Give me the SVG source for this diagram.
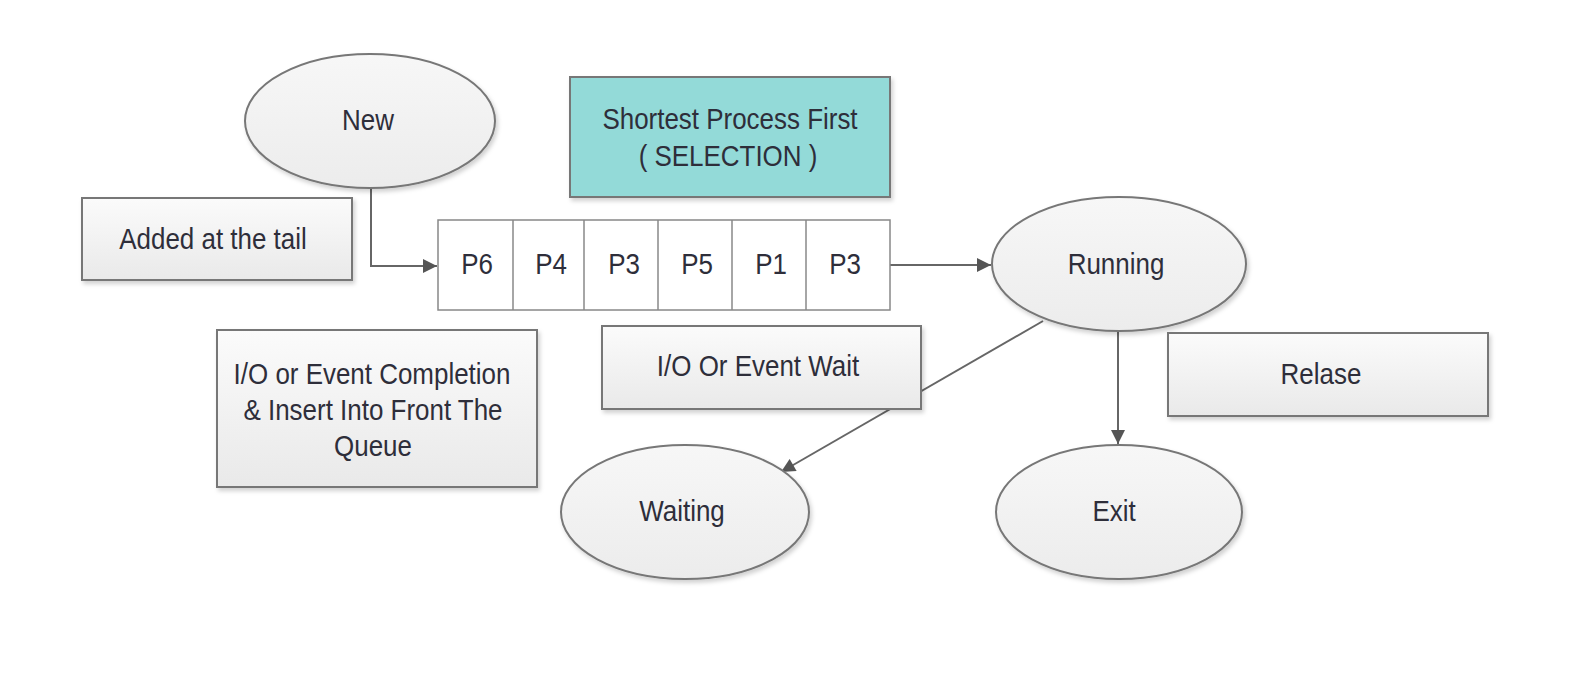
<svg xmlns="http://www.w3.org/2000/svg" width="1582" height="692" viewBox="0 0 1582 692">
<defs>
<linearGradient id="gb" x1="0" y1="0" x2="0" y2="1">
<stop offset="0" stop-color="#fbfbfb"/>
<stop offset="1" stop-color="#e9e9e9"/>
</linearGradient>
<linearGradient id="ge" x1="0" y1="0" x2="0" y2="1">
<stop offset="0" stop-color="#f7f7f7"/>
<stop offset="1" stop-color="#ececec"/>
</linearGradient>
<filter id="sh" x="-10%" y="-10%" width="125%" height="130%">
<feDropShadow dx="2" dy="3" stdDeviation="2" flood-color="#000" flood-opacity="0.18"/>
</filter>
<marker id="ar" viewBox="0 0 10 10" refX="10" refY="5" markerWidth="15" markerHeight="14" markerUnits="userSpaceOnUse" orient="auto">
<path d="M0,0 L10,5 L0,10 z" fill="#555"/>
</marker>
</defs>
<style>
.box{fill:url(#gb);stroke:#777;stroke-width:2;filter:url(#sh)}
.ell{fill:url(#ge);stroke:#777;stroke-width:2;filter:url(#sh)}
.cell{fill:#fff;stroke:#888;stroke-width:1.5}
.con{fill:none;stroke:#666;stroke-width:2}
text{font-family:"Liberation Sans",Arial,sans-serif;font-size:29.5px;fill:#2e2e3a;text-anchor:middle}
</style>
<rect width="1582" height="692" fill="#fff"/>

<g id="connectors">
<polyline class="con" points="371,189 371,266 437,266" marker-end="url(#ar)"/>
<line class="con" x1="890" y1="265" x2="991" y2="265" marker-end="url(#ar)"/>
<line class="con" x1="1118" y1="331" x2="1118" y2="444" marker-end="url(#ar)"/>
<line class="con" x1="1043" y1="321" x2="781" y2="472" marker-end="url(#ar)"/>
</g>

<g id="new">
<ellipse class="ell" cx="370" cy="121" rx="125" ry="67"/>
<text transform="translate(368,130) scale(0.88,1)">New</text>
</g>

<g id="selection">
<rect x="570" y="77" width="320" height="120" fill="#93dad8" stroke="#777" stroke-width="2" filter="url(#sh)"/>
<text transform="translate(730,129) scale(0.88,1)">Shortest Process First</text>
<text transform="translate(728,166) scale(0.88,1)">( SELECTION )</text>
</g>

<g id="added">
<rect class="box" x="82" y="198" width="270" height="82"/>
<text transform="translate(213,249) scale(0.88,1)">Added at the tail</text>
</g>

<g id="queue">
<rect class="cell" x="438" y="220" width="452" height="90"/>
<line class="cell" x1="513" y1="220" x2="513" y2="310"/>
<line class="cell" x1="584" y1="220" x2="584" y2="310"/>
<line class="cell" x1="658" y1="220" x2="658" y2="310"/>
<line class="cell" x1="732" y1="220" x2="732" y2="310"/>
<line class="cell" x1="806" y1="220" x2="806" y2="310"/>
<text transform="translate(477,274) scale(0.88,1)">P6</text>
<text transform="translate(551,274) scale(0.88,1)">P4</text>
<text transform="translate(624,274) scale(0.88,1)">P3</text>
<text transform="translate(697,274) scale(0.88,1)">P5</text>
<text transform="translate(771,274) scale(0.88,1)">P1</text>
<text transform="translate(845,274) scale(0.88,1)">P3</text>
</g>

<g id="running">
<ellipse class="ell" cx="1119" cy="264" rx="127" ry="67"/>
<text transform="translate(1116,274) scale(0.88,1)">Running</text>
</g>

<g id="completion">
<rect class="box" x="217" y="330" width="320" height="157"/>
<text transform="translate(372,384) scale(0.88,1)">I/O or Event Completion</text>
<text transform="translate(373,420) scale(0.88,1)">&amp; Insert Into Front The</text>
<text transform="translate(373,456) scale(0.88,1)">Queue</text>
</g>

<g id="wait">
<rect class="box" x="602" y="326" width="319" height="83"/>
<text transform="translate(758,376) scale(0.88,1)">I/O Or Event Wait</text>
</g>

<g id="release">
<rect class="box" x="1168" y="333" width="320" height="83"/>
<text transform="translate(1321,384) scale(0.88,1)">Relase</text>
</g>

<g id="waiting">
<ellipse class="ell" cx="685" cy="512" rx="124" ry="67"/>
<text transform="translate(682,521) scale(0.88,1)">Waiting</text>
</g>

<g id="exit">
<ellipse class="ell" cx="1119" cy="512" rx="123" ry="67"/>
<text transform="translate(1114,521) scale(0.88,1)">Exit</text>
</g>
</svg>
